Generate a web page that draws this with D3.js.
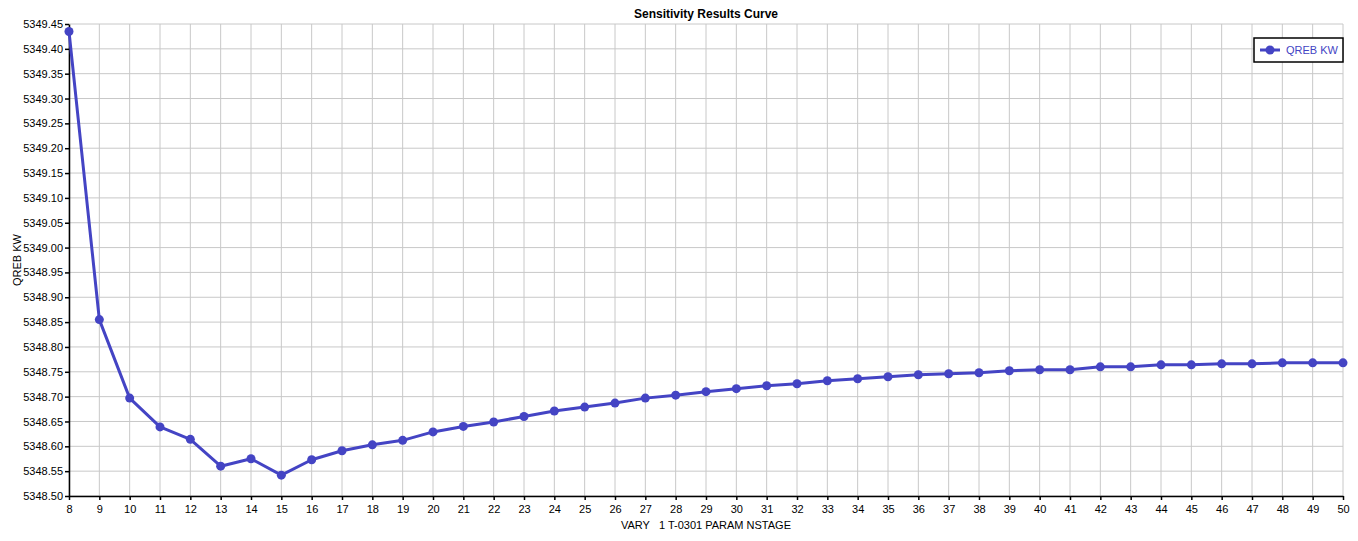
<!DOCTYPE html>
<html lang="en">
<head>
  <meta charset="utf-8">
  <title>Sensitivity Results Curve</title>
  <script src="https://d3js.org/d3.v7.min.js"></script>
  <style>
    body { margin: 0; background: #fff; }
    text { font-family: "Liberation Sans", Arial, sans-serif; }
  </style>
</head>
<body>
<div id="chart"></div>
<script>
  // data
  const stages = [8, 9, 10, 11, 12, 13, 14, 15, 16, 17, 18, 19, 20, 21, 22, 23, 24, 25, 26, 27, 28, 29,
    30, 31, 32, 33, 34, 35, 36, 37, 38, 39, 40, 41, 42, 43, 44, 45, 46, 47, 48, 49, 50]
  const qreb = [5349.435, 5348.855, 5348.697, 5348.639, 5348.614, 5348.560, 5348.575, 5348.542,
    5348.573, 5348.591, 5348.603, 5348.612, 5348.629, 5348.640, 5348.649, 5348.660, 5348.671,
    5348.679, 5348.687, 5348.697, 5348.703, 5348.710, 5348.716, 5348.722, 5348.726, 5348.732,
    5348.736, 5348.740, 5348.744, 5348.746, 5348.748, 5348.752, 5348.754, 5348.754, 5348.760,
    5348.760, 5348.764, 5348.764, 5348.766, 5348.766, 5348.768, 5348.768, 5348.768]
  const yTicks = d3.range(0, 20).map(i => 5348.50 + i * 0.05)
  const seriesName = "QREB KW"
  const lineColor = "#4444c4"

  const W = 1358, H = 541
  const margin = { top: 24, right: 15, bottom: 45, left: 69 }
  const width = W - margin.left - margin.right
  const height = H - margin.top - margin.bottom

  const svg = d3.select("#chart").append("svg")
    .attr("width", W).attr("height", H)

  const g = svg.append("g")
    .attr("transform", `translate(${margin.left},${margin.top})`)

  const x = d3.scaleLinear().domain([8, 50]).range([0, width])
  const y = d3.scaleLinear().domain([5348.50, 5349.45]).range([height, 0])

  // grid
  g.append("g").selectAll("line")
    .data(stages)
    .join("line")
      .attr("x1", d => x(d)).attr("x2", d => x(d))
      .attr("y1", 0).attr("y2", height)
      .attr("stroke", "#c8c8c8")
  g.append("g").selectAll("line")
    .data(yTicks)
    .join("line")
      .attr("x1", 0).attr("x2", width)
      .attr("y1", d => y(d)).attr("y2", d => y(d))
      .attr("stroke", "#c8c8c8")

  // axes
  const xAxis = g.append("g")
    .attr("transform", `translate(0,${height})`)
    .call(d3.axisBottom(x).tickValues(stages).tickFormat(d3.format("d")).tickSize(4).tickSizeOuter(0))
  const yAxis = g.append("g")
    .call(d3.axisLeft(y).tickValues(yTicks).tickFormat(d3.format(".2f")).tickSize(4).tickSizeOuter(0))
  ;[xAxis, yAxis].forEach(a => {
    a.selectAll("path, line").attr("stroke", "#000").attr("stroke-width", 1.5)
    a.selectAll("text").attr("fill", "#000").style("font-size", "11px")
      .style("font-family", "'Liberation Sans', Arial, sans-serif")
  })
  xAxis.selectAll("text").attr("dy", "0.9em")
  yAxis.selectAll("text").attr("x", -6)

  // line + markers
  const pts = stages.map((s, i) => ({ s: s, v: qreb[i] }))
  g.append("path")
    .datum(pts)
    .attr("fill", "none")
    .attr("stroke", lineColor)
    .attr("stroke-width", 3)
    .attr("stroke-linejoin", "round")
    .attr("d", d3.line().x(d => x(d.s)).y(d => y(d.v)))
  g.append("g").selectAll("circle")
    .data(pts)
    .join("circle")
      .attr("cx", d => x(d.s))
      .attr("cy", d => y(d.v))
      .attr("r", 4.5)
      .attr("fill", lineColor)

  // title and axis labels
  svg.append("text")
    .attr("x", margin.left + width / 2).attr("y", 18)
    .attr("text-anchor", "middle")
    .style("font-size", "12px").style("font-weight", "bold")
    .text("Sensitivity Results Curve")
  svg.append("text")
    .attr("x", margin.left + width / 2).attr("y", 529)
    .attr("text-anchor", "middle")
    .style("font-size", "11px")
    .attr("xml:space", "preserve")
    .text("VARY   1 T-0301 PARAM NSTAGE")
  svg.append("text")
    .attr("transform", `translate(21,${margin.top + height / 2}) rotate(-90)`)
    .attr("text-anchor", "middle")
    .style("font-size", "11px")
    .text(seriesName)

  // legend
  const leg = svg.append("g").attr("transform", "translate(1254,38)")
  leg.append("rect")
    .attr("width", 89).attr("height", 24)
    .attr("fill", "#fff").attr("stroke", "#000").attr("stroke-width", 1.5)
  leg.append("line")
    .attr("x1", 6).attr("x2", 26).attr("y1", 12).attr("y2", 12)
    .attr("stroke", lineColor).attr("stroke-width", 3)
  leg.append("circle")
    .attr("cx", 16).attr("cy", 12).attr("r", 4.5).attr("fill", lineColor)
  leg.append("text")
    .attr("x", 32).attr("y", 16)
    .style("font-size", "11px")
    .attr("fill", lineColor)
    .text(seriesName)
</script>
</body>
</html>
